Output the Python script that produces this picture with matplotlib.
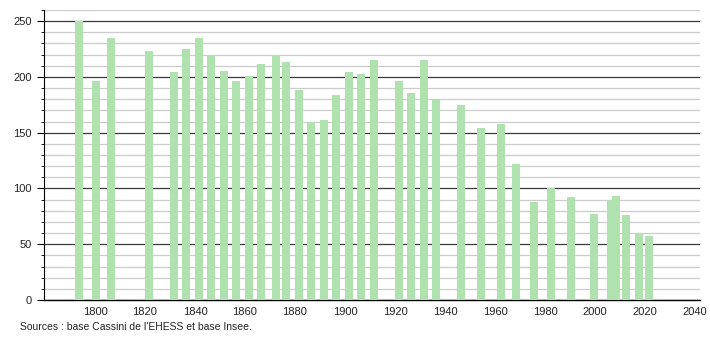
import matplotlib
matplotlib.use("Agg")
import matplotlib.pyplot as plt
from matplotlib.ticker import MultipleLocator

years = [1793, 1800, 1806, 1821, 1831, 1836, 1841, 1846, 1851, 1856, 1861, 1866,
         1872, 1876, 1881, 1886, 1891, 1896, 1901, 1906, 1911, 1921, 1926, 1931,
         1936, 1946, 1954, 1962, 1968, 1975, 1982, 1990, 1999, 2006, 2008, 2012,
         2017, 2021]
population = [250, 196, 235, 223, 204, 225, 235, 220, 205, 196, 201, 212,
              220, 213, 188, 160, 161, 184, 204, 203, 215, 196, 186, 215,
              180, 175, 154, 158, 122, 88, 100, 92, 77, 90, 93, 76,
              59, 57]
xticks = [1800, 1820, 1840, 1860, 1880, 1900, 1920, 1940, 1960, 1980, 2000, 2020, 2040]
yticks = [0, 50, 100, 150, 200, 250]
source = "Sources : base Cassini de l'EHESS et base Insee."

plt.rcParams['font.family'] = ['Liberation Sans', 'DejaVu Sans']

fig = plt.figure(figsize=(7.1, 3.4), dpi=100)
ax = fig.add_axes([44/710, 40/340, 656/710, 290/340])

ax.bar([y + 0.5 for y in years], population, width=3.2, color='#b0e2b0', zorder=3)

ax.set_xlim(1779.6, 2042)
ax.set_ylim(0, 260)

ax.yaxis.set_minor_locator(MultipleLocator(10))
ax.set_yticks(yticks)
ax.set_xticks(xticks)
ax.grid(axis='y', which='minor', color='#cccccc', linewidth=0.9, zorder=1)
ax.grid(axis='y', which='major', color='#3a3a3a', linewidth=0.9, zorder=2)

for s in ['top', 'right']:
    ax.spines[s].set_visible(False)
ax.spines['left'].set_color('black')
ax.spines['bottom'].set_color('black')
ax.spines['bottom'].set_linewidth(1.0)

ax.tick_params(axis='x', length=0, pad=5, labelsize=8, colors='#222222')
ax.tick_params(axis='y', which='major', length=5, pad=4, labelsize=8, colors='#222222')
ax.tick_params(axis='y', which='minor', length=2.5, color='black')
ax.tick_params(axis='y', which='major', color='black')

fig.text(20/710, 1 - 327/340, source, fontsize=7.5, color='#222222', va='center', ha='left')

fig.savefig('out.png', dpi=100, facecolor='white')
